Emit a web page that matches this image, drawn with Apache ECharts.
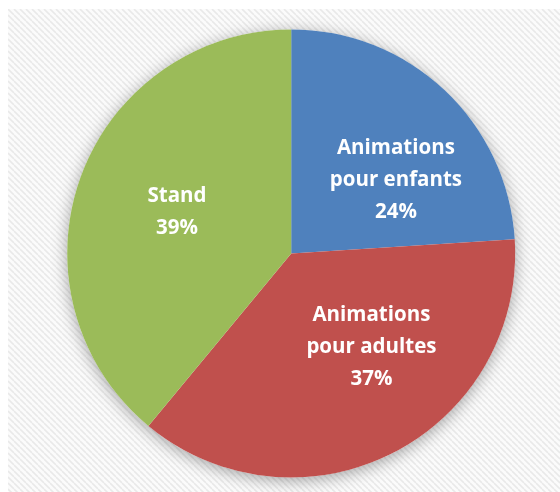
<!DOCTYPE html>
<html>
<head>
<meta charset="utf-8">
<script src="https://cdn.jsdelivr.net/npm/echarts@6/dist/echarts.min.js"></script>
<style>
html,body{margin:0;padding:0;background:#fff;}
#main{width:560px;height:492px;}
</style>
</head>
<body>
<div id="main"></div>
<script>
const categories = ['Animations\npour enfants', 'Animations\npour adultes', 'Stand'];
const values = [24, 37, 39];
const colors = ['#4f81bd', '#c0504d', '#9bbb59'];
const labelOffsets = [[26, 11], [28, -9], [-6, -2]];

function makePattern() {
  const c = document.createElement('canvas');
  c.width = 6; c.height = 6;
  const g = c.getContext('2d');
  g.fillStyle = '#fbfbfb';
  g.fillRect(0, 0, 6, 6);
  g.strokeStyle = '#e9e9e9';
  g.lineWidth = 1.6;
  for (let k = -6; k <= 12; k += 6) {
    g.beginPath();
    g.moveTo(k, 0);
    g.lineTo(k + 6, 6);
    g.stroke();
  }
  return c;
}

const chart = echarts.init(document.getElementById('main'), null, {renderer: 'canvas'});
const center = ['52%', '51.5%'];
const radius = 224;
chart.setOption({
  backgroundColor: '#ffffff',
  animation: false,
  graphic: [{
    type: 'rect',
    left: 8, top: 9, z: -10,
    shape: {width: 552, height: 483},
    style: {fill: {image: makePattern(), repeat: 'repeat'}}
  }],
  series: [
    {
      type: 'pie',
      silent: true,
      center: center,
      radius: radius,
      z: 1,
      label: {show: false},
      labelLine: {show: false},
      itemStyle: {
        color: '#ffffff',
        shadowBlur: 16,
        shadowColor: 'rgba(0,0,0,0.35)',
        shadowOffsetY: 3
      },
      data: [{value: 1, name: ''}]
    },
    {
      type: 'pie',
      center: center,
      radius: radius,
      startAngle: 90,
      clockwise: true,
      avoidLabelOverlap: false,
      z: 2,
      itemStyle: {borderWidth: 0},
      label: {
        show: true,
        position: 'inside',
        color: '#ffffff',
        fontFamily: 'Open Sans',
        fontWeight: 'bold',
        fontSize: 20.5,
        lineHeight: 32,
        align: 'center',
        formatter: function (p) { return p.name + '\n' + p.value + '%'; }
      },
      labelLayout: {hideOverlap: false},
      labelLine: {show: false},
      data: categories.map(function (n, i) {
        return {
          name: n,
          value: values[i],
          itemStyle: {color: colors[i]},
          label: {offset: labelOffsets[i]}
        };
      })
    }
  ]
});
</script>
</body>
</html>
